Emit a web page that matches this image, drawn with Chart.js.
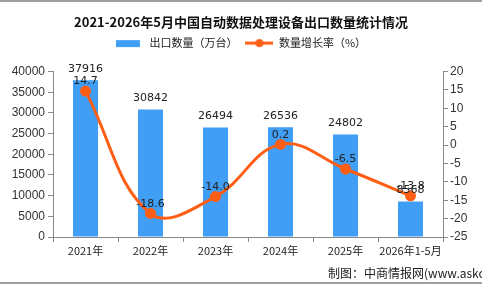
<!DOCTYPE html>
<html><head><meta charset="utf-8">
<script src="https://cdn.jsdelivr.net/npm/chart.js@4/dist/chart.umd.min.js"></script>
<style>
html,body{margin:0;padding:0;background:#fff;}
#wrap{position:relative;width:482px;height:284px;overflow:hidden;box-sizing:border-box;border-top:2px solid #a0a0a0;border-bottom:2px solid #a0a0a0;}
canvas{position:absolute;left:0;top:-2px;}
#src{position:absolute;left:328px;top:262px;font:12px "Noto Sans CJK SC","DejaVu Sans",sans-serif;color:#222;white-space:nowrap;}
</style></head>
<body><div id="wrap"><canvas id="c" width="482" height="284"></canvas><div id="src">制图：中商情报网(www.askci.com)</div></div>
<script>
const categories = ["2021年","2022年","2023年","2024年","2025年","2026年1-5月"];
const exportVolume = [37916, 30842, 26494, 26536, 24802, 8568];
const growthRate = [14.7, -18.6, -14.0, 0.2, -6.5, -13.8];
const leftTicks = [0,5000,10000,15000,20000,25000,30000,35000,40000];
const rightTicks = [-25,-20,-15,-10,-5,0,5,10,15,20];

const BAR_COLOR = '#409EF5', LINE_COLOR = '#FF5E14';
const fontFam = '"Noto Sans CJK SC","DejaVu Sans",sans-serif';

function mkIcon(kind){
  const c = document.createElement('canvas');
  c.width = 28; c.height = 10;
  const g = c.getContext('2d');
  if(kind==='bar'){ g.fillStyle = BAR_COLOR; g.fillRect(0,2,24,7); }
  else {
    g.strokeStyle = LINE_COLOR; g.lineWidth = 3;
    g.beginPath(); g.moveTo(0,5); g.lineTo(28,5); g.stroke();
    g.fillStyle = LINE_COLOR; g.beginPath(); g.arc(14,5,4,0,Math.PI*2); g.fill();
  }
  return c;
}
const barIcon = mkIcon('bar'), lineIcon = mkIcon('line');

const SPACER_H = 13;
const spacerPlugin = {
  id:'spacer',
  beforeLayout(chart){
    const lg = chart.legend;
    if(lg && !lg._spacerWrapped){
      const orig = lg.fit.bind(lg);
      lg.fit = function(){ orig(); this.height += SPACER_H; };
      lg._spacerWrapped = true;
    }
  }
};

const labelPlugin = {
  id:'labels',
  afterDatasetsDraw(chart){
    const ctx = chart.ctx;
    ctx.save();
    ctx.font = '11px "DejaVu Sans",sans-serif';
    ctx.fillStyle = '#222';
    ctx.textAlign = 'center';
    ctx.textBaseline = 'bottom';
    chart.getDatasetMeta(1).data.forEach((b,i)=>{
      ctx.fillText(String(exportVolume[i]), b.x, b.y - 6);
    });
    chart.getDatasetMeta(0).data.forEach((p,i)=>{
      ctx.fillText(growthRate[i].toFixed(1), p.x, p.y - 4);
    });
    ctx.restore();
  }
};

new Chart(document.getElementById('c'), {
  data:{
    labels: categories,
    datasets:[
      {type:'line', label:'数量增长率（%）', data: growthRate, yAxisID:'y1',
       borderColor:LINE_COLOR, backgroundColor:LINE_COLOR, borderWidth:3,
       pointRadius:4, pointHoverRadius:4, tension:0.4, order:0},
      {type:'bar', label:'出口数量（万台）', data: exportVolume, yAxisID:'y',
       backgroundColor:BAR_COLOR, borderWidth:0, barPercentage:0.385, categoryPercentage:1, order:1}
    ]
  },
  options:{
    responsive:false, animation:false,
    layout:{padding:{top:0,left:0,right:0,bottom:0}},
    plugins:{
      title:{display:true, text:'2021-2026年5月中国自动数据处理设备出口数量统计情况',
        color:'#111', font:{family:fontFam, size:13, weight:'bold'}, padding:{top:14,bottom:0}},
      legend:{display:true, reverse:true,
        labels:{color:'#222', font:{family:fontFam,size:11}, usePointStyle:true, pointStyleWidth:28, boxHeight:10, padding:8,
          generateLabels(chart){
            return chart.data.datasets.map((ds,i)=>({
              text: ds.label, datasetIndex:i, fontColor:'#222',
              pointStyle: ds.type==='bar' ? barIcon : lineIcon,
              fillStyle: ds.backgroundColor, strokeStyle: ds.backgroundColor, lineWidth:0, hidden:false
            }));
          }}},
      tooltip:{enabled:false}
    },
    scales:{
      x:{grid:{display:true, drawOnChartArea:false, color:'#888', tickLength:5},
         border:{color:'#888'},
         ticks:{color:'#222', font:{family:fontFam,size:11}, padding:2, maxRotation:0, minRotation:0, autoSkip:false},
         afterFit(s){ s.height = 47; }},
      y:{position:'left', min:0, max:40000,
         afterBuildTicks(s){ s.ticks = leftTicks.map(v=>({value:v})); },
         grid:{drawOnChartArea:false, color:'#888', tickLength:5},
         border:{color:'#888'},
         ticks:{color:'#333', font:{family:'"Liberation Sans",Arial,sans-serif',size:12}, padding:3, callback:v=>String(v)},
         afterFit(s){ s.width = 53; }},
      y1:{position:'right', min:-25, max:20,
         afterBuildTicks(s){ s.ticks = rightTicks.map(v=>({value:v})); },
         grid:{drawOnChartArea:false, color:'#888', tickLength:5},
         border:{color:'#888'},
         ticks:{color:'#333', font:{family:'"Liberation Sans",Arial,sans-serif',size:12}, padding:2, callback:v=>String(v)},
         afterFit(s){ s.width = 39; }}
    }
  },
  plugins:[spacerPlugin, labelPlugin]
});
</script></body></html>
